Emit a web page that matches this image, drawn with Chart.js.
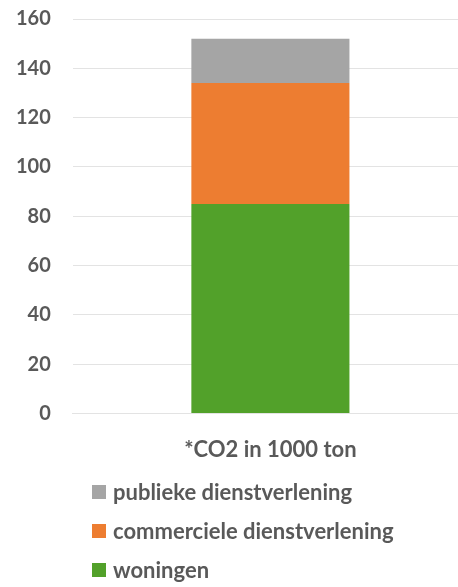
<!DOCTYPE html>
<html>
<head>
<meta charset="utf-8">
<script src="https://cdn.jsdelivr.net/npm/chart.js@4"></script>
<style>
  html, body { margin: 0; padding: 0; background: #fff; }
  #wrap { width: 458px; height: 587px; position: relative; overflow: hidden; }
  #box { width: 474px; height: 493px; position: absolute; left: -6px; top: -15px; }
  #legend { position: absolute; left: 92px; top: 472px; margin: 0; padding: 0; list-style: none;
    font-family: Lato, "Open Sans", sans-serif; font-weight: bold; font-size: 22px; color: #595959; }
  #legend li { height: 39px; display: flex; align-items: center; }
  #legend span.sw { display: inline-block; width: 14px; height: 14px; margin-right: 7px; }
</style>
</head>
<body>
<div id="wrap">
  <div id="box"><canvas id="co2Chart"></canvas></div>
  <ul id="legend"></ul>
</div>
<script>
const categories = ['*CO2 in 1000 ton'];
const woningen = [85];
const commercieel = [49];
const publiek = [18];
const yTicks = [0, 20, 40, 60, 80, 100, 120, 140, 160];

const textColor = '#595959';
const gridColor = '#e3e3e3';

const ctx = document.getElementById('co2Chart');

const chart = new Chart(ctx, {
    type: 'bar',
    data: {
        labels: categories,
        datasets: [
            { label: 'woningen', data: woningen, backgroundColor: '#52a12a' },
            { label: 'commerciele dienstverlening', data: commercieel, backgroundColor: '#ed7d31' },
            { label: 'publieke dienstverlening', data: publiek, backgroundColor: '#a5a5a5' }
        ]
    },
    options: {
        responsive: true,
        maintainAspectRatio: false,
        animation: false,
        layout: { padding: 0 },
        datasets: { bar: { barPercentage: 0.40, categoryPercentage: 1 } },
        plugins: {
            legend: { display: false },
            tooltip: { enabled: false }
        },
        scales: {
            x: {
                stacked: true,
                grid: { display: false },
                border: { display: true, color: gridColor, width: 1 },
                ticks: { color: textColor, padding: 15, font: { family: 'Lato', size: 22, weight: 'bold' } }
            },
            y: {
                stacked: true,
                min: 0,
                max: 160,
                afterBuildTicks: (axis) => { axis.ticks = yTicks.map(v => ({ value: v })); },
                grid: { color: gridColor, drawTicks: false },
                border: { display: false },
                ticks: { color: textColor, padding: 22, font: { family: 'Lato', size: 20, weight: 'bold' } }
            }
        }
    }
});

//legenda - odwrocona kolejnosc jak w stosie
const legendEl = document.getElementById('legend');
chart.data.datasets.slice().reverse().forEach(ds => {
    const li = document.createElement('li');
    const sw = document.createElement('span');
    sw.className = 'sw';
    sw.style.background = ds.backgroundColor;
    li.appendChild(sw);
    li.appendChild(document.createTextNode(ds.label));
    legendEl.appendChild(li);
});
</script>
</body>
</html>
